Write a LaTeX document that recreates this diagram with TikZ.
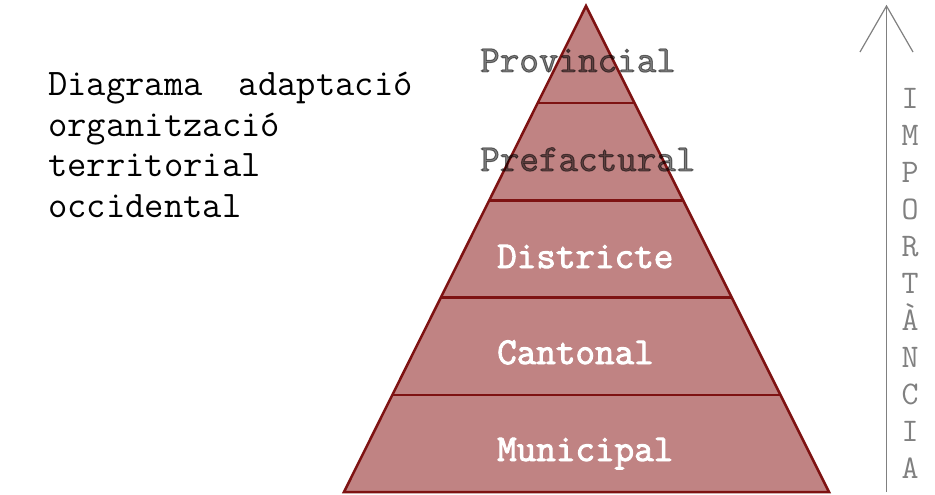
\documentclass[tikz,border=0pt]{standalone}
\usepackage{fontspec}
\setmainfont{Latin Modern Mono}
\newfontfamily\levelfont{Latin Modern Mono}[FakeBold=2.5]
\definecolor{levelfill}{HTML}{C08383}
\definecolor{leveledge}{HTML}{7E1212}
\definecolor{axisgray}{HTML}{808080}
\tikzset{
    level/.style={inner sep=0, anchor=base west, font=\levelfont\fontsize{38}{40}\selectfont},
    fadedlevel/.style={level, text=black, text opacity=0.5},
    brightlevel/.style={level, text=white},
}
\begin{document}
\begin{tikzpicture}[x=1pt, y=-1pt]

    \useasboundingbox (0, 0) rectangle (935, 495);

    %% Pyramid

    % Body
    \draw[leveledge, line width=2.5pt, line join=miter, fill=levelfill]
        (586, 6) -- (829, 492) -- (344, 492) -- cycle;

    % Level dividers
    \draw[leveledge, line width=2.5pt] (537.5, 103.2) -- (634.5, 103.2);
    \draw[leveledge, line width=2.5pt] (489, 200.4) -- (683, 200.4);
    \draw[leveledge, line width=2.5pt] (440.5, 297.6) -- (731.5, 297.6);
    \draw[leveledge, line width=2.5pt] (392, 394.8) -- (780, 394.8);

    % Level names
    \node [fadedlevel] (provincial) at (480, 72) {Provincial};
    \node [fadedlevel] (prefactural) at (480, 171) {Prefactural};
    \node [brightlevel] (districte) at (497, 268) {Districte};
    \node [brightlevel] (cantonal) at (497, 364) {Cantonal};
    \node [brightlevel] (municipal) at (497, 461) {Municipal};

    %% Title
    \node [inner sep=0, anchor=north west, align=left,
           font=\fontsize{37.5}{40.5}\selectfont] (title) at (48, 72)
        {Diagrama\hspace{0.45em} adaptació\\organització\\territorial\\occidental};

    %% Importance axis
    \coordinate (axisbottom) at (886.5, 492);
    \coordinate (axistop) at (886.5, 6);
    \coordinate (barbleft) at (860, 52);
    \coordinate (barbright) at (913, 52);
    \draw[axisgray, line width=1.2pt] (axisbottom) -- (axistop);
    \draw[axisgray, line width=1.2pt] (barbleft) -- (axistop) -- (barbright);
    \node [text=axisgray, inner sep=0, align=center,
           font=\fontsize{33}{37}\selectfont] (importancia) at (910, 283)
        {I\\M\\P\\O\\R\\T\\À\\N\\C\\I\\A};

\end{tikzpicture}
\end{document}
